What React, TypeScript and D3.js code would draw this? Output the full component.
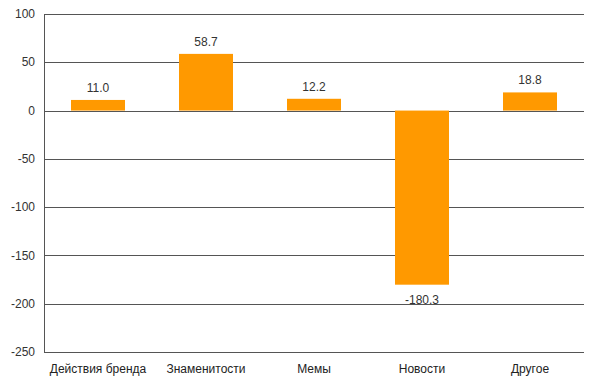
import React from "react";
import * as d3 from "d3";

const categories = ["Действия бренда", "Знаменитости", "Мемы", "Новости", "Другое"];
const values = [11.0, 58.7, 12.2, -180.3, 18.8];
const yTicks = [100, 50, 0, -50, -100, -150, -200, -250];

const W = 594, H = 384;
const margin = { left: 44, right: 10, top: 14, bottom: 32 };

export default function App() {
  const x = d3.scaleBand<string>().domain(categories).range([margin.left, W - margin.right]).paddingInner(0.5).paddingOuter(0.25);
  const y = d3.scaleLinear().domain([-250, 100]).range([H - margin.bottom, margin.top]);
  const font = "Arial, 'Liberation Sans', sans-serif";
  return (
    <svg width={W} height={H} style={{ position: "absolute", left: 0, top: 0 }} fontFamily={font}>
      <rect width={W} height={H} fill="#fff" />
      {yTicks.map((t) => (
        <g key={t}>
          <line x1={margin.left} x2={W - margin.right} y1={Math.round(y(t)) + 0.5} y2={Math.round(y(t)) + 0.5} stroke="#555" strokeWidth={1} />
          <text x={35} y={y(t)} dy="0.35em" textAnchor="end" fontSize={12} fill="#333">{t}</text>
        </g>
      ))}
      <line x1={margin.left + 0.5} x2={margin.left + 0.5} y1={y(100)} y2={y(-250)} stroke="#555" />
      {categories.map((c, i) => {
        const v = values[i];
        const bx = x(c)!;
        const top = y(Math.max(0, v));
        const bottom = y(Math.min(0, v));
        return (
          <g key={c}>
            <rect x={bx} y={top} width={x.bandwidth()} height={bottom - top} fill="#FF9900" />
            <text x={bx + x.bandwidth() / 2} y={v >= 0 ? top - 8 : bottom + 19} textAnchor="middle" fontSize={12} fill="#333">{v.toFixed(1)}</text>
            <text x={bx + x.bandwidth() / 2} y={373} textAnchor="middle" fontSize={12} fill="#222">{c}</text>
          </g>
        );
      })}
    </svg>
  );
}
